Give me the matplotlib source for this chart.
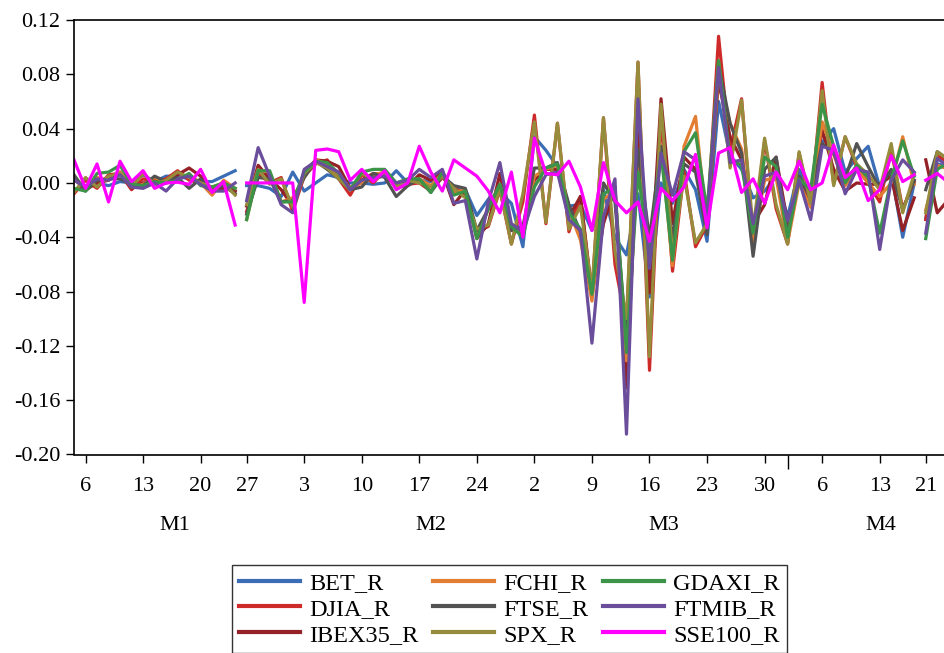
import numpy as np
import matplotlib

matplotlib.use("Agg")
import matplotlib.pyplot as plt
import matplotlib.transforms as mtransforms

plt.rcParams["font.family"] = ["Liberation Serif", "DejaVu Serif"]
plt.rcParams["axes.unicode_minus"] = False

# ---- data: daily log returns, one value per trading-day slot ----
bet_r = [-0.005, -0.004, 0.000, -0.002, 0.001, 0.000, 0.006, 0.001, 0.005, 0.005,
         0.003, 0.001, 0.001, 0.005, 0.009, -0.002, -0.002, -0.004, -0.010, 0.008,
         -0.006, 0.000, 0.006, 0.004, 0.000, 0.000, -0.001, 0.000, 0.009, 0.000,
         0.002, 0.001, 0.008, -0.005, -0.005, -0.024, -0.012, -0.007, -0.015, -0.047,
         0.034, 0.024, 0.012, -0.017, -0.016, -0.035, -0.005, -0.040, -0.053, -0.008,
         -0.084, 0.000, -0.015, 0.010, -0.005, -0.043, 0.060, 0.020, 0.010, -0.011,
         -0.006, 0.005, -0.025, 0.010, -0.010, 0.030, 0.040, 0.008, 0.018, 0.027,
         -0.003, 0.008, -0.040, 0.000, -0.026, 0.014, 0.012]
djia_r = [-0.008, 0.002, -0.004, 0.006, 0.007, -0.005, 0.003, 0.001, 0.003, 0.009,
          0.002, 0.000, -0.005, 0.000, -0.006, -0.021, 0.007, 0.000, 0.004, -0.021,
          0.005, 0.014, 0.017, 0.003, -0.009, 0.006, 0.000, 0.009, -0.004, -0.001,
          0.000, -0.006, 0.004, -0.004, -0.008, -0.036, -0.032, -0.005, -0.045, -0.014,
          0.050, -0.030, 0.044, -0.036, -0.010, -0.081, 0.048, -0.060, -0.105, 0.089,
          -0.138, 0.051, -0.065, 0.009, -0.047, -0.031, 0.108, 0.024, 0.062, -0.041,
          0.031, -0.019, -0.045, 0.022, -0.017, 0.074, -0.001, 0.034, 0.012, 0.000,
          -0.014, 0.024, -0.019, 0.001, -0.027, 0.020, 0.015]
ibex35_r = [0.003, -0.005, 0.000, 0.002, 0.008, -0.004, 0.000, 0.002, 0.000, 0.006,
            0.011, 0.005, -0.005, -0.004, -0.006, -0.017, 0.013, 0.003, -0.005, -0.017,
            0.007, 0.017, 0.016, 0.012, -0.004, 0.002, 0.007, 0.006, -0.003, -0.002,
            0.006, 0.002, 0.008, -0.016, -0.005, -0.041, -0.030, 0.007, -0.035, -0.036,
            0.002, 0.010, 0.010, -0.025, -0.010, -0.083, -0.030, -0.003, -0.151, 0.037,
            -0.081, 0.062, -0.030, 0.019, 0.010, -0.027, 0.075, 0.034, 0.017, -0.030,
            -0.016, 0.019, -0.030, 0.000, -0.012, 0.039, 0.010, -0.006, 0.000, -0.001,
            -0.001, 0.005, -0.035, -0.011, 0.017, -0.022, -0.012]
fchi_r = [0.004, -0.005, 0.004, 0.002, 0.008, -0.003, -0.001, 0.004, 0.000, 0.003,
          0.006, 0.000, -0.009, 0.002, -0.004, -0.027, 0.009, 0.008, -0.014, -0.011,
          0.004, 0.017, 0.014, 0.006, -0.004, 0.000, 0.006, 0.008, -0.003, 0.002,
          0.003, -0.002, 0.007, -0.007, -0.005, -0.040, -0.019, -0.001, -0.034, -0.035,
          0.005, 0.010, 0.013, -0.020, -0.042, -0.087, -0.012, -0.006, -0.131, 0.018,
          -0.059, 0.028, -0.061, 0.027, 0.049, -0.034, 0.081, 0.044, 0.025, -0.043,
          0.002, 0.004, -0.044, 0.000, -0.018, 0.045, 0.021, -0.002, 0.010, 0.000,
          -0.010, 0.000, 0.034, -0.001, -0.020, 0.013, 0.010]
ftse_r = [0.006, -0.006, 0.002, 0.003, 0.003, -0.001, -0.002, 0.005, 0.001, 0.004,
          -0.004, 0.003, -0.005, -0.002, -0.008, -0.023, 0.004, 0.003, -0.014, -0.013,
          0.004, 0.016, 0.010, 0.003, -0.005, -0.003, 0.007, 0.004, -0.010, -0.002,
          0.003, -0.007, 0.005, -0.002, -0.004, -0.035, -0.019, -0.001, -0.035, -0.032,
          0.011, 0.011, 0.015, -0.016, -0.036, -0.080, 0.000, -0.014, -0.115, 0.025,
          -0.041, 0.027, -0.041, 0.014, 0.008, -0.038, 0.087, 0.044, 0.022, -0.054,
          0.010, 0.019, -0.038, 0.005, -0.011, 0.029, 0.022, 0.003, 0.029, 0.012,
          -0.004, 0.010, -0.020, 0.002, -0.005, 0.023, 0.017]
spx_r = [-0.007, 0.004, -0.003, 0.005, 0.007, -0.003, 0.007, -0.001, 0.002, 0.008,
         0.004, 0.000, -0.003, 0.000, -0.009, -0.016, 0.010, -0.001, 0.003, -0.018,
         0.007, 0.015, 0.011, 0.003, -0.005, 0.007, 0.002, 0.006, -0.002, 0.002,
         0.000, -0.003, 0.005, -0.004, -0.011, -0.034, -0.031, -0.004, -0.045, -0.008,
         0.045, -0.029, 0.044, -0.034, -0.017, -0.079, 0.048, -0.050, -0.100, 0.089,
         -0.128, 0.058, -0.053, 0.005, -0.044, -0.030, 0.090, 0.011, 0.061, -0.034,
         0.033, -0.016, -0.045, 0.023, -0.015, 0.068, -0.002, 0.034, 0.014, 0.006,
         -0.005, 0.029, -0.022, 0.007, -0.022, 0.023, 0.017]
gdaxi_r = [-0.004, -0.006, 0.007, 0.008, 0.013, -0.001, -0.002, 0.001, 0.000, 0.002,
           0.007, -0.002, -0.003, 0.000, -0.004, -0.027, 0.009, 0.009, -0.014, -0.014,
           0.008, 0.016, 0.015, 0.007, -0.005, 0.008, 0.010, 0.010, 0.000, 0.003,
           0.003, -0.007, 0.008, -0.009, -0.006, -0.041, -0.019, -0.001, -0.032, -0.040,
           -0.003, 0.011, 0.014, -0.022, -0.034, -0.082, -0.008, -0.004, -0.125, 0.008,
           -0.054, 0.022, -0.057, 0.023, 0.037, -0.021, 0.090, 0.018, 0.013, -0.037,
           0.019, 0.012, -0.040, 0.003, -0.005, 0.058, 0.027, 0.000, 0.013, 0.004,
           -0.037, 0.003, 0.031, 0.005, -0.041, 0.010, 0.015]
ftmib_r = [0.002, -0.003, 0.003, 0.002, 0.006, -0.003, -0.004, 0.000, -0.006, 0.003,
           0.005, -0.001, -0.006, -0.006, 0.000, -0.013, 0.026, 0.005, -0.016, -0.022,
           0.010, 0.016, 0.012, 0.008, -0.005, 0.002, 0.004, 0.005, 0.000, 0.002,
           0.010, 0.004, 0.010, -0.015, -0.013, -0.056, -0.014, 0.015, -0.030, -0.036,
           -0.010, 0.006, 0.008, -0.027, -0.035, -0.118, -0.025, 0.003, -0.185, 0.062,
           -0.063, 0.022, -0.009, 0.023, 0.017, -0.026, 0.085, 0.015, 0.017, -0.030,
           0.005, 0.008, -0.028, 0.002, -0.027, 0.027, 0.024, -0.008, 0.010, 0.008,
           -0.049, 0.002, 0.017, 0.008, -0.037, 0.018, 0.012]
sse100_r = [0.017, -0.004, 0.014, -0.014, 0.016, 0.001, 0.009, -0.004, 0.000, 0.0005,
            -0.001, 0.010, -0.007, 0.001, -0.031, 0.000, 0.000, 0.000, 0.000, 0.000,
            -0.088, 0.024, 0.025, 0.023, 0.002, 0.010, 0.001, 0.009, -0.005, 0.000,
            0.027, 0.008, -0.006, 0.017, 0.011, 0.005, -0.006, -0.022, 0.008, -0.040,
            0.033, 0.007, 0.006, 0.016, -0.003, -0.035, 0.015, -0.013, -0.022, -0.014,
            -0.043, -0.004, -0.013, -0.003, 0.021, -0.033, 0.022, 0.026, -0.007, 0.003,
            -0.015, 0.008, -0.005, 0.016, -0.005, 0.000, 0.028, 0.004, 0.011, -0.013,
            -0.005, 0.020, 0.001, 0.006, 0.002, 0.007, 0.000]

series_names = ["BET_R", "DJIA_R", "IBEX35_R", "FCHI_R", "FTSE_R", "SPX_R",
                "GDAXI_R", "FTMIB_R", "SSE100_R"]
series_values = [bet_r, djia_r, ibex35_r, fchi_r, ftse_r, spx_r, gdaxi_r, ftmib_r, sse100_r]
series_colors = ["#3a6db5", "#cf2a2a", "#932125", "#e27d32", "#525252", "#978c3c",
                 "#3b9447", "#6a4d9b", "#ff00ff"]

# observation index where a new line segment starts (dates missing in between)
segment_starts = [0, 15, 74]

# week tick labels and the observation they sit on
week_tick_pos = [1, 6, 11, 15, 20, 25, 30, 35, 40, 45, 50, 55, 60, 65, 70, 74]
week_tick_labels = ["6", "13", "20", "27", "3", "10", "17", "24", "2", "9", "16",
                    "23", "30", "6", "13", "21"]
month_start_pos = [20, 40, 62]
month_labels = ["M1", "M2", "M3", "M4"]
month_label_pos = [8.8, 31.0, 51.2, 70.1]


def main() -> None:
    fig = plt.figure(figsize=(9.44, 6.53), dpi=100)
    fig.patch.set_facecolor("white")
    n_obs = len(bet_r)
    x = np.arange(n_obs)
    ax = fig.add_axes([74 / 944, 1 - 454.5 / 653, (n_obs - 1) * 11.51 / 944, 434.5 / 653])

    bounds = segment_starts + [n_obs]
    for name, vals, col in zip(series_names, series_values, series_colors):
        vals = np.asarray(vals)
        for k in range(len(segment_starts)):
            a, b = bounds[k], bounds[k + 1]
            ax.plot(x[a:b], vals[a:b], color=col, linewidth=2.3,
                    label=name if k == 0 else None)

    ax.set_xlim(0, n_obs - 1)
    ax.set_ylim(-0.20, 0.12)
    ax.set_yticks(np.arange(-0.20, 0.121, 0.04))
    ax.yaxis.set_major_formatter(matplotlib.ticker.FormatStrFormatter("%.2f"))

    ax.set_xticks(week_tick_pos)
    ax.set_xticklabels(week_tick_labels)
    ax.set_xticks(month_start_pos, minor=True)
    ax.tick_params(axis="x", which="major", direction="out", length=6, width=1.0,
                   pad=10, labelsize=16)
    ax.tick_params(axis="x", which="minor", direction="out", length=10, width=1.0)
    ax.tick_params(axis="y", direction="out", length=6, width=1.0, pad=4, labelsize=16)

    for side in ["left", "bottom", "top", "right"]:
        ax.spines[side].set_linewidth(1.2)
        ax.spines[side].set_color("black")

    trans = mtransforms.blended_transform_factory(ax.transData, ax.transAxes)
    for pos, lab in zip(month_label_pos, month_labels):
        ax.text(pos, -0.1645, lab, transform=trans, ha="center", va="center",
                fontsize=16)

    handles, labels = ax.get_legend_handles_labels()
    leg = fig.legend(handles, labels, ncol=3, loc="upper left",
                     bbox_to_anchor=(232 / 944, 1 - 565 / 653),
                     frameon=True, fancybox=False, fontsize=17.5,
                     handlelength=2.5, handletextpad=0.37, columnspacing=0.62,
                     labelspacing=0.15, borderpad=0.3, borderaxespad=0.0)
    leg.get_frame().set_edgecolor("black")
    leg.get_frame().set_linewidth(1.0)
    for line in leg.get_lines():
        line.set_linewidth(3.0)

    fig.savefig("out.png", dpi=100)
    plt.close(fig)


if __name__ == "__main__":
    main()
